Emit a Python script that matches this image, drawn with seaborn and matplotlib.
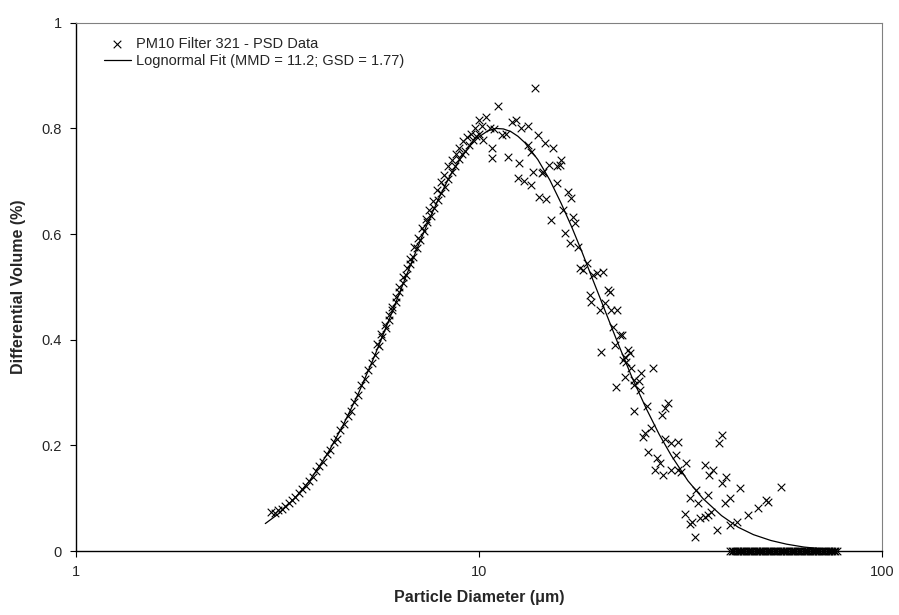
import numpy as np
import pandas as pd
import matplotlib
matplotlib.use("Agg")
import matplotlib.pyplot as plt
import seaborn as sns

sns.set_style("white")
plt.rcParams['font.family'] = ['Liberation Sans', 'DejaVu Sans']

# PSD data (diameter in um, differential volume in %)
# smooth lower branch
low_d = [3.05, 3.11, 3.17, 3.24, 3.30, 3.37, 3.43, 3.50, 3.57, 3.64, 3.72, 3.79,
         3.87, 3.94, 4.02, 4.10, 4.19, 4.27, 4.36, 4.44, 4.53, 4.62, 4.72, 4.81,
         4.91, 5.01, 5.11, 5.21, 5.31, 5.42, 5.53, 5.64, 5.75, 5.87, 5.98, 6.10,
         6.23, 6.35, 6.48, 6.61, 6.74, 6.88, 7.01, 7.15, 7.30, 7.44, 7.59, 7.75,
         7.90, 8.06, 8.22, 8.39, 8.55, 8.73, 8.90, 9.08, 9.26, 9.45, 9.64, 9.83, 10.03]
low_v = [0.073, 0.072, 0.077, 0.079, 0.085, 0.090, 0.096, 0.103, 0.109, 0.118, 0.124, 0.133,
         0.141, 0.152, 0.161, 0.168, 0.183, 0.192, 0.206, 0.213, 0.229, 0.240, 0.256, 0.265,
         0.283, 0.296, 0.314, 0.325, 0.343, 0.356, 0.371, 0.388, 0.406, 0.422, 0.437, 0.457,
         0.472, 0.490, 0.508, 0.522, 0.543, 0.556, 0.574, 0.589, 0.606, 0.622, 0.634, 0.650,
         0.665, 0.678, 0.690, 0.705, 0.718, 0.729, 0.742, 0.752, 0.758, 0.769, 0.779, 0.786, 0.790]

# upper branch through the peak and the scattered tail
up_d = [5.60, 5.72, 5.84, 5.97, 6.09, 6.22, 6.35, 6.48, 6.62, 6.76, 6.91, 7.06,
        7.21, 7.37, 7.53, 7.69, 7.86, 8.03, 8.20, 8.38, 8.56, 8.75, 8.94, 9.14,
        9.34, 9.55, 9.76, 9.98, 10.2, 10.4, 10.65, 10.9, 11.17, 11.4, 11.7, 12.05,
        12.35, 12.7, 13.2, 13.8, 14.0, 14.6, 15.3, 16.0, 16.6, 17.1, 17.6, 18.5,
        19.6, 20.3, 21.1, 22.0, 22.6, 23.7, 24.9, 25.3, 27.0, 29.0, 29.5, 31.2,
        30.9, 32.6, 36.3, 38.1, 39.4, 40.2, 41.1, 44.5]
up_v = [0.392, 0.410, 0.427, 0.446, 0.462, 0.480, 0.499, 0.518, 0.536, 0.553, 0.575, 0.592,
        0.611, 0.629, 0.645, 0.662, 0.684, 0.699, 0.712, 0.728, 0.740, 0.752, 0.762, 0.776,
        0.784, 0.790, 0.800, 0.815, 0.805, 0.821, 0.800, 0.798, 0.843, 0.788, 0.790, 0.812,
        0.816, 0.800, 0.804, 0.876, 0.788, 0.772, 0.763, 0.741, 0.680, 0.633, 0.576, 0.545,
        0.526, 0.529, 0.491, 0.456, 0.409, 0.374, 0.321, 0.337, 0.346, 0.270, 0.280, 0.207,
        0.182, 0.166, 0.163, 0.153, 0.205, 0.220, 0.141, 0.119]

# lower scatter on the falling side
fall_d = [10.25, 10.75, 10.8, 11.8, 12.6, 12.5, 12.95, 13.2, 13.5, 13.5, 13.6, 14.1,
          14.3, 14.4, 14.7, 14.9, 15.1, 15.6, 15.6, 15.9, 16.2, 16.35, 16.8, 16.9,
          17.3, 17.8, 18.1, 18.9, 19.0, 19.2, 19.95, 20.1, 20.5, 20.9, 21.3, 21.5,
          21.7, 21.9, 22.4, 22.8, 23.0, 23.0, 23.2, 23.5, 23.9, 24.2, 24.3, 24.3,
          25.1, 25.5, 25.8, 26.1, 26.3, 26.8, 27.3, 27.6, 28.1, 28.5, 28.6, 29.0,
          29.9, 30.0, 31.2, 31.8, 32.4, 33.4, 33.4, 33.8, 34.4, 34.6, 34.9, 35.3,
          36.3, 37.0, 37.0, 37.3, 37.7, 38.9, 40.0, 40.8, 41.9, 41.9, 43.6, 46.5,
          49.3, 51.6, 52.1, 56.3]
fall_v = [0.778, 0.763, 0.744, 0.746, 0.734, 0.706, 0.701, 0.769, 0.756, 0.693, 0.718, 0.670,
          0.715, 0.718, 0.666, 0.731, 0.627, 0.728, 0.696, 0.731, 0.646, 0.602, 0.583, 0.668,
          0.621, 0.535, 0.532, 0.485, 0.472, 0.523, 0.456, 0.377, 0.469, 0.494, 0.456, 0.425,
          0.390, 0.310, 0.409, 0.362, 0.368, 0.330, 0.358, 0.381, 0.346, 0.265, 0.324, 0.314,
          0.305, 0.216, 0.223, 0.275, 0.188, 0.232, 0.153, 0.176, 0.166, 0.258, 0.144, 0.213,
          0.204, 0.153, 0.153, 0.150, 0.071, 0.100, 0.051, 0.055, 0.027, 0.116, 0.090, 0.062,
          0.065, 0.106, 0.068, 0.144, 0.074, 0.040, 0.128, 0.090, 0.100, 0.049, 0.055, 0.068,
          0.081, 0.097, 0.093, 0.121]

# empty bins at the coarse end (two overlapping runs)
zero_d = [42.0, 42.8, 43.6, 44.4, 45.2, 46.0, 46.9, 47.7, 48.6, 49.5, 50.4, 51.3,
          52.3, 53.2, 54.2, 55.2, 56.2, 57.3, 58.3, 59.4, 60.5, 61.6, 62.7, 63.9,
          65.1, 66.3, 67.5, 68.7, 70.0, 71.3, 72.6, 73.9, 75.3, 76.7,
          42.4, 43.2, 44.0, 44.8, 45.6, 46.5, 47.3, 48.2, 49.0, 49.9, 50.8, 51.8,
          52.7, 53.7, 54.7, 55.7, 56.7, 57.8, 58.8, 59.9, 61.0, 62.2, 63.3, 64.5,
          65.7, 66.9, 68.1, 69.4, 70.6, 71.9, 73.3, 74.6, 76.0, 77.2]
zero_v = [0.0] * len(zero_d)

# lognormal fit curve
fit_d = [2.95, 3.2, 3.5, 3.8, 4.2, 4.6, 5.0, 5.5, 6.0, 6.5, 7.0, 7.5, 8.0, 8.5, 9.0,
         9.5, 10, 10.5, 11, 11.5, 12, 12.5, 13, 14, 15, 16, 17, 18, 19, 20, 22, 24,
         26, 28, 30, 33, 36, 40, 44, 48, 53, 58, 64, 70, 78]
fit_v = [0.052, 0.072, 0.101, 0.133, 0.183, 0.238, 0.295, 0.368, 0.440, 0.508, 0.570,
         0.625, 0.672, 0.712, 0.743, 0.767, 0.784, 0.795, 0.800, 0.799, 0.794, 0.785,
         0.773, 0.741, 0.702, 0.658, 0.613, 0.567, 0.521, 0.478, 0.398, 0.328, 0.270,
         0.221, 0.181, 0.133, 0.099, 0.067, 0.045, 0.031, 0.020, 0.013, 0.0076, 0.0046, 0.0025]

psd = pd.DataFrame({'d': low_d + up_d + fall_d + zero_d,
                    'v': low_v + up_v + fall_v + zero_v})
fit = pd.DataFrame({'d': fit_d, 'v': fit_v})

fig = plt.figure(figsize=(8.99, 6.15), dpi=100)
ax = fig.add_axes([0.0845, 0.104, 0.8965, 0.859])

sns.scatterplot(data=psd, x='d', y='v', marker='x', color='black', s=30,
                linewidth=0.8, ax=ax, label='PM10 Filter 321 - PSD Data',
                zorder=3, clip_on=False)
sns.lineplot(data=fit, x='d', y='v', color='black', linewidth=0.9, ax=ax,
             label='Lognormal Fit (MMD = 11.2; GSD = 1.77)', zorder=2)

ax.set_xscale('log')
ax.set_xlim(1, 100)
ax.set_ylim(0, 1)
ax.set_xticks([1, 10, 100])
ax.set_xticklabels(['1', '10', '100'])
ax.xaxis.set_minor_locator(matplotlib.ticker.NullLocator())
ax.set_yticks([0, 0.2, 0.4, 0.6, 0.8, 1])
ax.set_yticklabels(['0', '0.2', '0.4', '0.6', '0.8', '1'])
ax.tick_params(axis='both', direction='out', length=4, width=0.8, color='black',
               labelsize=10.5, pad=6, bottom=True, left=True)

for side in ['left', 'bottom']:
    ax.spines[side].set_color('black')
    ax.spines[side].set_linewidth(1.0)
for side in ['top', 'right']:
    ax.spines[side].set_color('#808080')
    ax.spines[side].set_linewidth(0.8)

ax.set_xlabel('Particle Diameter (\u03bcm)', fontsize=11.5, fontweight='bold')
ax.set_ylabel('Differential Volume (%)', fontsize=11.5, fontweight='bold')
ax.xaxis.set_label_coords(0.5, -0.074)
ax.yaxis.set_label_coords(-0.062, 0.5)

ax.legend(loc='upper left', bbox_to_anchor=(0.028, 0.985), frameon=False,
          fontsize=10.5, handlelength=1.8, handletextpad=0.4, labelspacing=0.25,
          borderaxespad=0)

fig.patch.set_facecolor('white')
fig.savefig('out.png', dpi=100)
